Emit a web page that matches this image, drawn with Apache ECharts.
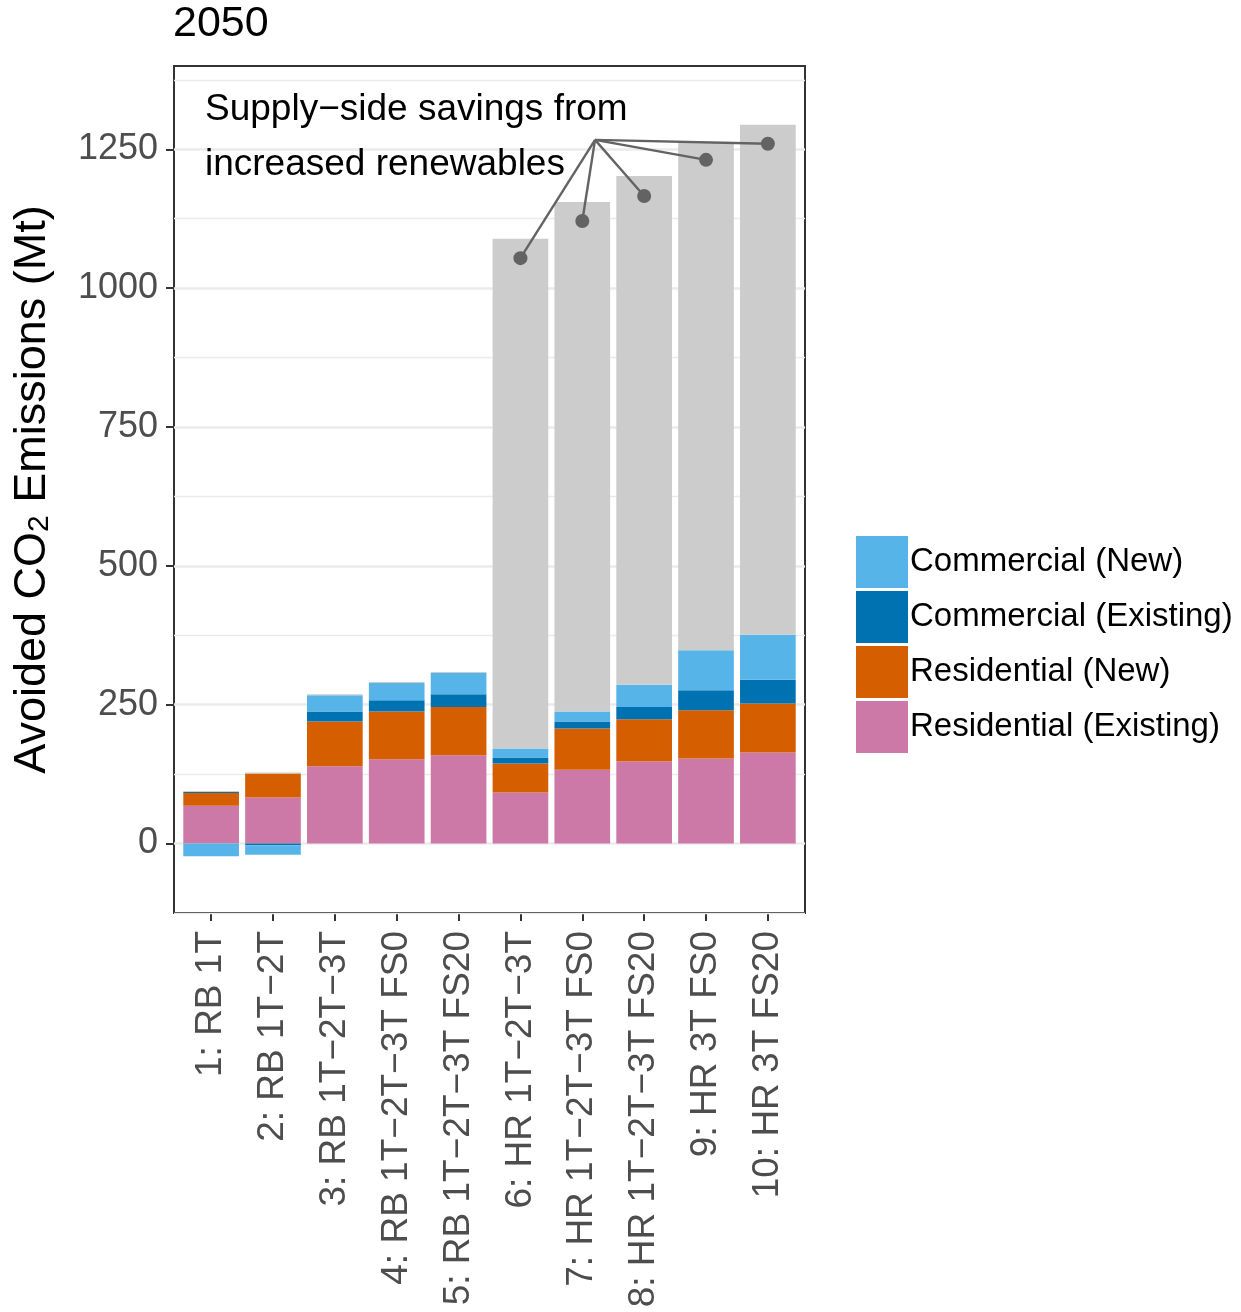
<!DOCTYPE html>
<html>
<head>
<meta charset="utf-8">
<script src="https://cdn.jsdelivr.net/npm/echarts@6/dist/echarts.min.js"></script>
<style>
html, body { margin: 0; padding: 0; background: #fff; }
#chart { width: 1241px; height: 1312px; }
</style>
</head>
<body>
<div id="chart"></div>
<script>
// Scenario labels along the x axis
const scenarios = [
  '1: RB 1T', '2: RB 1T\u22122T', '3: RB 1T\u22122T\u22123T', '4: RB 1T\u22122T\u22123T FS0',
  '5: RB 1T\u22122T\u22123T FS20', '6: HR 1T\u22122T\u22123T', '7: HR 1T\u22122T\u22123T FS0',
  '8: HR 1T\u22122T\u22123T FS20', '9: HR 3T FS0', '10: HR 3T FS20'
];

// Avoided CO2 emissions in 2050 (Mt), by sector
const residentialExisting = [68, 83, 139, 152, 159, 92, 133, 148, 153, 164];
const residentialNew      = [23, 43, 81, 86, 87, 52, 74, 76, 87, 88];
const commercialExisting  = [2, -3, 18, 20, 23, 11, 13, 22, 36, 43];
const commercialNew       = [-23, -17, 29, 31, 38, 16, 18, 40, 72, 81];
const supplySide          = [1.5, 2, 2, 2, 2, 918, 917, 916, 914, 918];

// Y axis ticks and gridlines
const yMajorTicks = [0, 250, 500, 750, 1000, 1250];
const yMinorGrid  = [-125, 125, 375, 625, 875, 1125, 1375];

// Callout: hub point near the note text and one marker per renewables scenario
const calloutHub = [7.206, 1267];
const calloutX = [6, 7, 8, 9, 10];
const calloutY = [1054, 1121, 1166, 1231, 1260];

const FONT = 'Liberation Sans';
const Y_MIN = -125, Y_MAX = 1400;
const colors = {
  commercialNew: '#56B4E9',
  commercialExisting: '#0072B2',
  residentialNew: '#D55E00',
  residentialExisting: '#CC79A7',
  supply: '#CCCCCC'
};

const chart = echarts.init(document.getElementById('chart'), null, { renderer: 'canvas' });

function barSeries(name, data, color) {
  return {
    name: name,
    type: 'bar',
    stack: 'total',
    xAxisIndex: 1,
    yAxisIndex: 1,
    barWidth: '90%',
    data: data,
    itemStyle: { color: color },
    z: 3,
    silent: true
  };
}

const gridLines = yMinorGrid.map(v => ({ yAxis: v, lineStyle: { width: 1.3 } }))
  .concat(yMajorTicks.map(v => ({ yAxis: v, lineStyle: { width: 2.6 } })));

const calloutSeries = calloutX.map((x, i) => ({
  type: 'line',
  xAxisIndex: 0,
  yAxisIndex: 0,
  data: [calloutHub, [x, calloutY[i]]],
  symbol: 'none',
  lineStyle: { color: '#636363', width: 2.4 },
  z: 5,
  silent: true
}));

const option = {
  animation: false,
  backgroundColor: '#ffffff',
  textStyle: { fontFamily: FONT },
  graphic: [
    {
      type: 'text', left: 173, top: 3,
      style: { text: '2050', font: '43px "Liberation Sans"', fill: '#000' }
    },
    {
      type: 'text', left: 205, top: 82,
      style: {
        text: 'Supply\u2212side savings from\nincreased renewables',
        font: '37px "Liberation Sans"', fill: '#000', lineHeight: 55
      },
      z: 10
    }
  ],
  legend: {
    orient: 'vertical',
    left: 856,
    top: 536,
    padding: 0,
    itemWidth: 52,
    itemHeight: 52,
    itemGap: 3,
    icon: 'rect',
    selectedMode: false,
    textStyle: { fontSize: 33, color: '#000', fontFamily: FONT, padding: [6, 0, 0, -3] },
    data: ['Commercial (New)', 'Commercial (Existing)', 'Residential (New)', 'Residential (Existing)']
  },
  grid: [
    { left: 174, top: 66, width: 631, height: 847, outerBoundsMode: 'none', show: true, borderColor: '#333333', borderWidth: 2, backgroundColor: 'transparent' },
    { left: 180.2, top: 66, width: 618.6, height: 847, outerBoundsMode: 'none' }
  ],
  xAxis: [
    { type: 'value', gridIndex: 0, min: 0.4, max: 10.6, show: false },
    {
      type: 'category', gridIndex: 1, data: scenarios,
      axisLine: { show: false, onZero: false },
      axisTick: { show: true, alignWithLabel: true, length: 8, lineStyle: { color: '#333333', width: 2 } },
      axisLabel: { rotate: 90, margin: 18, fontSize: 37, color: '#4d4d4d', fontFamily: FONT, interval: 0 },
      splitLine: { show: false }
    }
  ],
  yAxis: [
    {
      type: 'value', gridIndex: 0, min: Y_MIN, max: Y_MAX, interval: 125,
      axisLine: { show: false },
      axisTick: { show: true, length: 8, customValues: yMajorTicks, lineStyle: { color: '#333333', width: 2 } },
      axisLabel: {
        customValues: yMajorTicks,
        margin: 16, fontSize: 36, color: '#4d4d4d', fontFamily: FONT,
        padding: [5, 0, 0, 0],
        formatter: v => (yMajorTicks.indexOf(v) >= 0 ? String(v) : '')
      },
      splitLine: { show: false },
      name: '{m|Avoided CO}{s|2}{m| Emissions (Mt)}',
      nameLocation: 'middle',
      nameGap: 119,
      nameTextStyle: {
        color: '#000',
        rich: {
          m: { fontSize: 45, lineHeight: 45, verticalAlign: 'top', fontFamily: FONT, color: '#000' },
          s: { fontSize: 30, lineHeight: 30, verticalAlign: 'bottom', padding: [20, 0, 0, 0], fontFamily: FONT, color: '#000' }
        }
      }
    },
    { type: 'value', gridIndex: 1, min: Y_MIN, max: Y_MAX, show: false, splitLine: { show: false } }
  ],
  series: [
    {
      // panel gridlines, drawn beneath the bars
      type: 'line', xAxisIndex: 0, yAxisIndex: 0, data: [], z: 1, silent: true,
      markLine: {
        z: 1,
        silent: true, symbol: ['none', 'none'], label: { show: false },
        lineStyle: { type: 'solid', color: '#ebebeb' },
        emphasis: { disabled: true },
        data: gridLines
      }
    },
    barSeries('Residential (Existing)', residentialExisting, colors.residentialExisting),
    barSeries('Residential (New)', residentialNew, colors.residentialNew),
    barSeries('Commercial (Existing)', commercialExisting, colors.commercialExisting),
    barSeries('Commercial (New)', commercialNew, colors.commercialNew),
    barSeries('Supply-side', supplySide, colors.supply),
    ...calloutSeries,
    {
      type: 'scatter', xAxisIndex: 0, yAxisIndex: 0,
      data: calloutX.map((x, i) => [x, calloutY[i]]),
      symbol: 'circle', symbolSize: 14,
      itemStyle: { color: '#636363', opacity: 1 },
      z: 6, silent: true
    }
  ]
};

chart.setOption(option);
</script>
</body>
</html>
